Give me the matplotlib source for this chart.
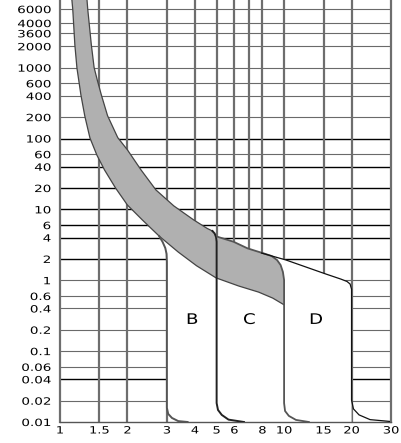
# trip_curves.py
# Time-current tripping curves B, C and D of a miniature circuit breaker.

import matplotlib
matplotlib.use("Agg")
import matplotlib.pyplot as plt
import matplotlib.patheffects as pe
from matplotlib.ticker import NullLocator
from matplotlib.transforms import Affine2D

# axis ticks and grid lines
x_ticks = [1, 1.5, 2, 3, 4, 5, 6, 8, 10, 15, 20, 30]
x_tick_labels = ["1", "1.5", "2", "3", "4", "5", "6", "8", "10", "15", "20", "30"]
x_grid = [1.5, 2, 3, 4, 5, 6, 7, 8, 10, 15, 20]

y_tick_labels = ["6000", "4000", "3600", "2000", "1000", "600", "400", "200",
                 "100", "60", "40", "20", "10", "6", "4", "2", "1", "0.6",
                 "0.4", "0.2", "0.1", "0.06", "0.04", "0.02", "0.01"]
# the printed chart puts its top three labels on these lines
y_ticks = [6700, 4250, 3050, 2000, 1000, 600, 400, 200, 100, 60, 40, 20, 10,
           6, 4, 2, 1, 0.6, 0.4, 0.2, 0.1, 0.06, 0.04, 0.02, 0.01]
y_dark = [100, 40, 20, 10, 6, 4, 2, 0.04]

# thermal band, lower (left) edge: multiple of In / time in s
band_low_I = [1.13, 1.14, 1.165, 1.19, 1.24, 1.29, 1.36, 1.46, 1.58, 1.77,
              2.0, 2.33, 2.77, 3.37, 4.07, 4.97, 6.27, 7.7, 8.9, 10]
band_low_t = [9000, 6650, 2090, 990, 410, 208, 102, 58.5, 36, 20,
              11.5, 7.1, 4.2, 2.5, 1.6, 1.08, 0.83, 0.68, 0.56, 0.45]

# thermal band, upper (right) edge
band_high_I = [1.32, 1.33, 1.38, 1.42, 1.47, 1.53, 1.63, 1.81, 2.0, 2.3,
               2.68, 3.22, 3.95, 4.53, 4.79]
band_high_t = [9000, 6650, 2090, 1000, 650, 410, 210, 103, 69, 36,
               18.8, 11.2, 7.1, 5.4, 4.95]

# B: lower limit at 3 In, upper limit at 5 In
b_lower_I = [2.77, 2.87, 2.95, 2.99, 3, 3, 3.04, 3.16, 3.37, 3.71]
b_lower_t = [4.2, 3.47, 2.85, 2.35, 1.81, 0.0158, 0.013, 0.0114, 0.0103, 0.01]
b_upper_I = [4.79, 4.9, 4.97, 5, 5, 5.07, 5.27, 5.65, 6.62]
b_upper_t = [4.95, 4.57, 4.08, 3.5, 0.0185, 0.0148, 0.0126, 0.0108, 0.01]

# C: upper limit at 10 In
c_upper_I = [5.03, 5.94, 6.87, 7.48, 8.09, 8.79, 9.3, 9.65, 9.88, 10, 10,
             10.1, 10.5, 11.3, 12.9]
c_upper_t = [4.12, 3.5, 2.82, 2.59, 2.4, 2.2, 1.93, 1.64, 1.31, 1.01, 0.0185,
             0.0143, 0.0122, 0.0107, 0.01]

# D: upper limit at 20 In
d_upper_I = [7.93, 10.2, 12.5, 15.3, 17.9, 19.1, 19.7, 20, 20, 20.4, 21.6,
             24.2, 29.5]
d_upper_t = [2.42, 1.93, 1.54, 1.23, 1.04, 0.96, 0.885, 0.75, 0.0204, 0.0153,
             0.0126, 0.0108, 0.0102]

zone_names = ["B", "C", "D"]
zone_I = [3.89, 7.0, 13.9]
zone_t = [0.28, 0.28, 0.28]


class Wide(pe.AbstractPathEffect):
    # the printed lettering is stretched sideways
    def __init__(self, sx=1.3, anchor="center"):
        super().__init__()
        self.sx = sx
        self.anchor = anchor

    def draw_path(self, renderer, gc, tpath, affine, rgbFace=None):
        ext = tpath.get_extents()
        if self.anchor == "right":
            x0 = ext.x1
        else:
            x0 = (ext.x0 + ext.x1) / 2
        stretch = Affine2D().translate(-x0, 0).scale(self.sx, 1).translate(x0, 0)
        renderer.draw_path(gc, tpath, stretch + affine, rgbFace)


fig = plt.figure(figsize=(4.02, 4.43), dpi=100)
ax = fig.add_axes([60 / 402, 21 / 443, 331 / 402, 422 / 443])
ax.set_xscale("log")
ax.set_yscale("log")
ax.set_xlim(1, 30)
ax.set_ylim(0.01, 9000)

# grid
for v in y_ticks[:-1]:
    if v in y_dark:
        ax.axhline(v, color="black", lw=1.0, zorder=0.5)
    else:
        ax.axhline(v, color="#6a6a6a", lw=0.8, zorder=0.5)
for v in x_grid:
    ax.axvline(v, color="#6e6e6e", lw=1.6, zorder=0.6)

# white area under the tripping zone
white_I = (b_lower_I[::-1]
           + [i for i in band_high_I if i >= 2.6]
           + c_upper_I[:4] + d_upper_I[:8] + [20])
white_t = (b_lower_t[::-1]
           + [t for i, t in zip(band_high_I, band_high_t) if i >= 2.6]
           + c_upper_t[:4] + d_upper_t[:8] + [0.01])
ax.fill(white_I, white_t, color="white", lw=0, zorder=1)

# grey thermal band
band_I = band_low_I + c_upper_I[:10][::-1] + band_high_I[::-1]
band_t = band_low_t + c_upper_t[:10][::-1] + band_high_t[::-1]
ax.fill(band_I, band_t, color="#b0b0b0", lw=0, zorder=2)

# curve lines
ax.plot(band_low_I, band_low_t, color="#444444", lw=0.9, zorder=3)
ax.plot(band_high_I, band_high_t, color="#444444", lw=0.9, zorder=3)
ax.plot(b_lower_I, b_lower_t, color="#555555", lw=1.4, zorder=3)
ax.plot(b_upper_I, b_upper_t, color="#222222", lw=1.4, zorder=3)
ax.plot(c_upper_I, c_upper_t, color="#555555", lw=1.3, zorder=3)
ax.plot(d_upper_I, d_upper_t, color="#111111", lw=0.9, zorder=3)

for name, i, t in zip(zone_names, zone_I, zone_t):
    ax.text(i, t, name, ha="center", va="center", fontsize=10.5, zorder=4,
            path_effects=[Wide(1.25)])

# ticks and frame
ax.xaxis.set_minor_locator(NullLocator())
ax.yaxis.set_minor_locator(NullLocator())
ax.set_xticks(x_ticks, labels=x_tick_labels)
ax.set_yticks(y_ticks, labels=y_tick_labels)
ax.tick_params(axis="x", length=0, pad=2.5, labelsize=7.2)
ax.tick_params(axis="y", length=0, pad=6.5, labelsize=7.2)
for lbl in ax.get_xticklabels():
    lbl.set_path_effects([Wide(1.3)])
for lbl in ax.get_yticklabels():
    lbl.set_path_effects([Wide(1.35, "right")])
ax.spines["top"].set_visible(False)
for s in ["left", "right"]:
    ax.spines[s].set_color("#6e6e6e")
    ax.spines[s].set_linewidth(1.6)
ax.spines["bottom"].set_color("#555555")
ax.spines["bottom"].set_linewidth(1.0)

plt.savefig("out.png", dpi=100)
plt.close()
